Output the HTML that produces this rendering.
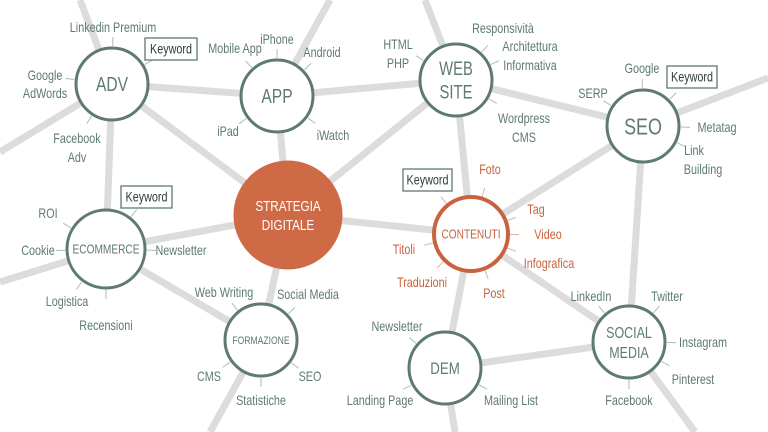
<!DOCTYPE html>
<html><head><meta charset="utf-8">
<style>
html,body{margin:0;padding:0;background:#fff;width:768px;height:432px;overflow:hidden}
svg{display:block}
text{font-family:"Liberation Sans Narrow","Liberation Sans",sans-serif;}
</style></head>
<body>
<svg id="map" width="768" height="432" viewBox="0 0 768 432">
<g id="edges"></g>
<g id="ticks"></g>
<g id="nodes"></g>
<g id="labels"></g>
</svg>
<script>
const NS='http://www.w3.org/2000/svg';
const nodeNames=['ADV','APP','WEB SITE','SEO','ECOMMERCE','STRATEGIA DIGITALE','CONTENUTI','FORMAZIONE','DEM','SOCIAL MEDIA'];
const nodeX=[112,277,456,643,106,288,471,261,445,629];
const nodeY=[84,96,80,126,249,215,234,340,368,342];
const nodeR=[36,36,36,36,39,53,37,36,36,36];
const nodeFs=[20,20,19,23,13,15,13,11,17,16];
const nodeKind=['g','g','g','g','g','main','o','g','g','g'];
const edgesA=[0,0,0,1,1,2,2,2,3,3,4,4,5,5,6,6,8];
const edgesB=[1,5,4,5,2,5,3,6,6,9,5,7,6,7,8,9,9];
const outNode=[0,0,1,2,3,4,7,8,9];
const outX=[80,0,330,425,768,0,210,455,695];
const outY=[0,152,0,0,78,282,432,432,432];
const labelText=['Linkedin  Premium','Google','AdWords','Facebook','Adv','Mobile App','iPhone','Android','iPad','iWatch','HTML','PHP','Responsività','Architettura','Informativa','Wordpress','CMS','Google','SERP','Metatag','Link','Building','ROI','Cookie','Newsletter','Logistica','Recensioni','Foto','Tag','Video','Infografica','Titoli','Traduzioni','Post','Web Writing','Social  Media','CMS','SEO','Statistiche','Newsletter','Landing  Page','Mailing  List','LinkedIn','Twitter','Instagram','Pinterest','Facebook'];
const labelX=[113,45,45,77,77,235,277,322,228,333,398,398,503,530,530,524,524,642,593,717,694,703,48,38,181,67,106,490,536,548,549,404,422,494,224,308,209,310,261,397,380,511,591,667,703,693,629];
const labelY=[32,80,98,143,162,53,44,57,136,140,49,68,33,51,70,123,142,73,98,132,155,174,218,255,255,306,330,174,214,239,268,254,287,298,297,299,381,381,405,331,405,405,301,301,347,384,405];
const labelNode=[0,0,-1,0,-1,1,1,1,1,1,2,-1,2,2,-1,2,-1,3,3,3,3,-1,4,4,4,4,4,6,6,6,6,6,6,6,7,7,7,7,7,8,8,8,9,9,9,9,9];
const kwX=[145,667,121,403];
const kwY=[38,66,186,169];
const kwW=[52,50,51,49];
const kwNode=[0,3,4,6];
const GREEN='#5e7b6e',ORANGE='#c9623f',LINE='#dcdcdc';
const SX=0.8;
function el(t,a,p){const e=document.createElementNS(NS,t);for(const k in a)e.setAttribute(k,a[k]);p.appendChild(e);return e;}
function txt(x,y,fs,fill,s,p,sx){const t=el('text',{x:0,y:0,'font-size':fs,'text-anchor':'middle',fill:fill,transform:'translate('+x+','+y+') scale('+(sx||SX)+',1)'},p);t.textContent=s;return t;}
const E=document.getElementById('edges'),T=document.getElementById('ticks'),N=document.getElementById('nodes'),L=document.getElementById('labels');
edgesA.forEach((a,i)=>{const b=edgesB[i];
 const l=el('line',{x1:nodeX[a],y1:nodeY[a],x2:nodeX[b],y2:nodeY[b],stroke:LINE,'stroke-width':7},E);
 
 });
outNode.forEach((n,i)=>{
 const l=el('line',{x1:nodeX[n],y1:nodeY[n],x2:outX[i],y2:outY[i],stroke:LINE,'stroke-width':7},E);
 
 });
function tick(n,tx,ty,col){const dx=tx-nodeX[n],dy=ty-nodeY[n],d=Math.hypot(dx,dy);const ux=dx/d,uy=dy/d,r=nodeR[n];
 const l=el('line',{x1:nodeX[n]+ux*(r+2),y1:nodeY[n]+uy*(r+2),x2:nodeX[n]+ux*(r+11),y2:nodeY[n]+uy*(r+11),stroke:col,'stroke-width':1,opacity:0.5},T);
 
 }
nodeNames.forEach((nm,i)=>{
 const main=nodeKind[i]==='main',org=nodeKind[i]==='o';
 const c=el('circle',{cx:nodeX[i],cy:nodeY[i],r:nodeR[i],fill:main?'#cf6a47':'#fff',stroke:main?'#cf6a47':(org?ORANGE:GREEN),'stroke-width':org?4:3},N);
 
 
 const parts=(nm==='WEB SITE'||nm==='SOCIAL MEDIA'||nm==='STRATEGIA DIGITALE')?nm.split(' '):[nm];
 const fs=nodeFs[i];const lh=fs*1.25;
 parts.forEach((p,j)=>{
  const t=txt(nodeX[i],nodeY[i]+fs*0.36+(j-(parts.length-1)/2)*lh,fs,main?'#fff':(org?ORANGE:GREEN),p,N,0.78);
  
  });
});
labelText.forEach((s,i)=>{
 const n=labelNode[i];const col=(n===6)?ORANGE:GREEN;
 if(n>=0)tick(n,labelX[i],labelY[i]-4,col);
 const t=txt(labelX[i],labelY[i],13.5,col,s,L);
 
 });
kwX.forEach((x,i)=>{
 tick(kwNode[i],x+kwW[i]/2,kwY[i]+11,kwNode[i]===6?ORANGE:GREEN);
 const r=el('rect',{x:x,y:kwY[i],width:kwW[i],height:22,fill:'#fff',stroke:GREEN,'stroke-width':1.3},L);
 
 
 const t=txt(x+kwW[i]/2,kwY[i]+15.5,13.5,'#2e3e38','Keyword',L);
 
 });
</script>
</body></html>
